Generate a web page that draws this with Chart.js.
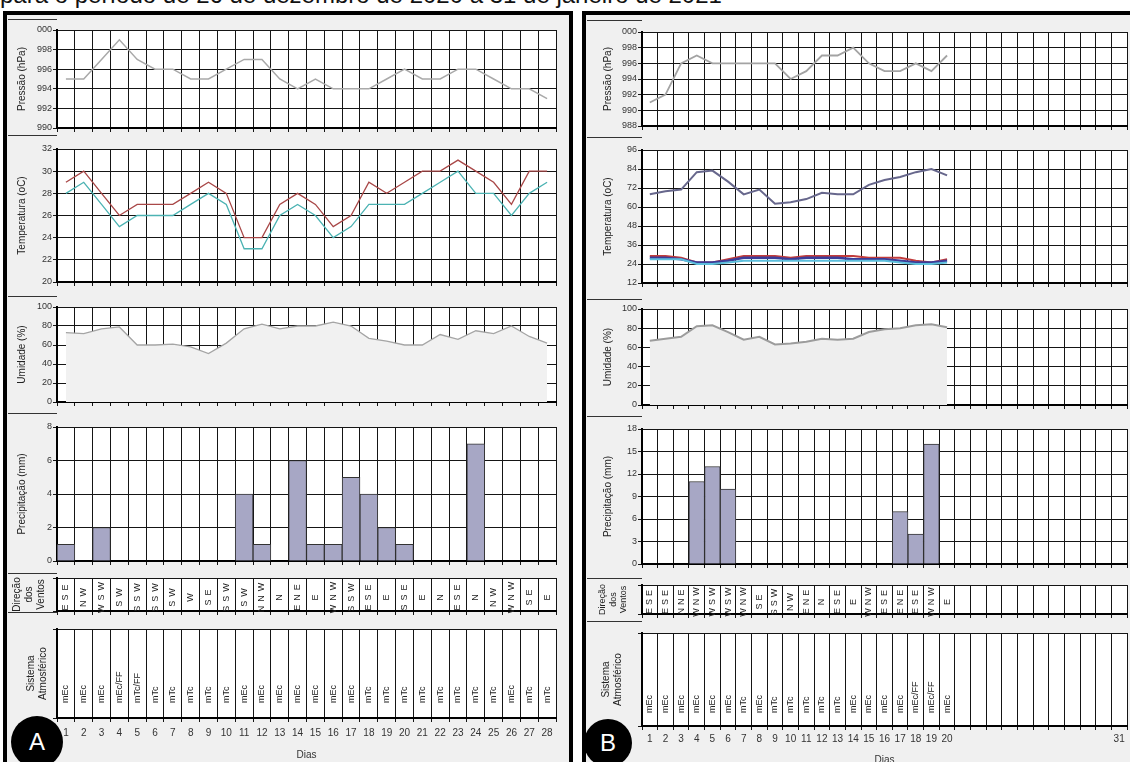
<!DOCTYPE html>
<html lang="pt-BR">
<head>
<meta charset="utf-8">
<title>Painéis diários</title>
<script src="https://cdn.jsdelivr.net/npm/chart.js@4.4.1/dist/chart.umd.min.js"></script>
<style>
  body { margin: 0; width: 1130px; height: 762px; overflow: hidden; background: #fff; position: relative;
         font-family: Arial, "Liberation Sans", sans-serif; }
  #titulo { position: absolute; left: 0; top: -19px; font-size: 24px; white-space: nowrap; color: #111; }
  .painel { position: absolute; top: 11px; height: 780px; border: 4px solid #000; background: #f0f0f0; }
  #painelA { left: 3px; width: 562px; }
  #painelB { left: 582px; width: 560px; }
  canvas { position: absolute; }
  .sep { position: absolute; height: 1px; background: #333; }
  .circulo { position: absolute; border-radius: 50%; background: #000; color: #fff; font-size: 24px;
             display: flex; align-items: center; justify-content: center; }
</style>
</head>
<body>
<div id="titulo">para o período de 26 de dezembro de 2020 a 31 de janeiro de 2021</div>
<div class="painel" id="painelA"></div>
<div class="painel" id="painelB"></div>

<script>
// ---------- Painel A ----------
const diasA = ['1','2','3','4','5','6','7','8','9','10','11','12','13','14','15','16','17','18','19','20',
               '21','22','23','24','25','26','27','28'];
const pressaoA = [995,995,997,999,997,996,996,995,995,996,997,997,995,994,995,994,994,994,995,996,995,995,996,996,995,994,994,993];
const tMaxA = [29,30,28,26,27,27,27,28,29,28,24,24,27,28,27,25,26,29,28,29,30,30,31,30,29,27,30,30];
const tMinA = [28,29,27,25,26,26,26,27,28,27,23,23,26,27,26,24,25,27,27,27,28,29,30,28,28,26,28,29];
const umidadeA = [73,72,77,79,60,60,61,58,51,62,77,82,77,80,80,84,80,67,64,60,60,71,66,75,72,80,69,62];
const chuvaA = [1,0,2,0,0,0,0,0,0,0,4,1,0,6,1,1,5,4,2,1,0,0,0,7,0,0,0,0];
const ventoA = ['ESE','NW','WSW','SW','SSW','SSW','SW','W','SE','SSW','SW','NNW','N','ENE','E','WNW','SSW','ESE',
                'E','SSE','E','N','ESE','N','NW','WNW','SE','E'];
const sistemaA = ['mEc','mEc','mEc','mEc/FF','mTc/FF','mTc','mTc','mTc','mTc','mTc','mEc','mEc','mEc','mEc','mEc',
                  'mEc','mEc','mTc','mTc','mTc','mTc','mTc','mTc','mTc','mTc','mEc','mTc','mTc'];

// ---------- Painel B ----------
const diasB = ['1','2','3','4','5','6','7','8','9','10','11','12','13','14','15','16','17','18','19','20',
               '21','22','23','24','25','26','27','28','29','30','31'];
const diasVisiveisB = ['1','2','3','4','5','6','7','8','9','10','11','12','13','14','15','16','17','18','19','20','31'];
const pressaoB = [991,992,996,997,996,996,996,996,996,994,995,997,997,998,996,995,995,996,995,997];
const umidTempB = [68,70,71,82,83,76,68,71,62,63,65,69,68,68,74,77,79,82,84,80];
const tMaxB = [29,29,28,25,25,27,29,29,29,28,29,29,29,29,28,28,28,26,25,27];
const tMedB = [28,28,27,25,25,26,28,28,28,27,28,28,28,27,27,27,26,25,25,26];
const tMinB = [27,27,27,24,24,25,26,26,26,26,26,26,26,26,26,26,25,24,24,25];
const umidadeB = [67,69,71,82,83,76,68,71,63,64,66,69,68,69,76,79,80,83,84,81];
const chuvaB = [0,0,0,11,13,10,0,0,0,0,0,0,0,0,0,0,7,4,16,0];
const ventoB = ['ESE','ESE','NNE','WNW','WSW','WSW','WNW','SE','SSW','NW','ENE','N','ESE','E','WNW','ESE','ENE',
                'ESE','WNW','E'];
const sistemaB = ['mEc','mEc','mEc','mEc','mEc','mEc','mTc','mEc','mTc','mTc','mTc','mTc','mTc','mEc','mEc',
                  'mEc','mEc','mEc/FF','mEc/FF','mEc'];

Chart.defaults.font.family = 'Arial, "Liberation Sans", sans-serif';

// white plot area on the grey panel
const fundoBranco = {
  id: 'fundoBranco',
  beforeDraw(chart) {
    const { ctx, chartArea: a } = chart;
    ctx.save();
    ctx.fillStyle = '#fff';
    ctx.fillRect(a.left, a.top, a.right - a.left, a.bottom - a.top);
    ctx.restore();
  }
};
Chart.register(fundoBranco);

// rotated text inside each day column (wind / atmospheric system rows)
function celulas(textos, modo, fonte, espaco, recuo) {
  return {
    id: 'celulas',
    afterDraw(chart) {
      const { ctx, chartArea: a, scales: { x } } = chart;
      ctx.save();
      ctx.font = fonte;
      ctx.fillStyle = '#222';
      ctx.letterSpacing = espaco;
      textos.forEach((t, i) => {
        const px = x.getPixelForValue(i);
        ctx.save();
        if (modo === 'centro') {
          ctx.translate(px, (a.top + a.bottom) / 2 + 1);
          ctx.rotate(-Math.PI / 2);
          ctx.textAlign = 'center';
        } else {
          ctx.translate(px, a.bottom - recuo);
          ctx.rotate(-Math.PI / 2);
          ctx.textAlign = 'left';
        }
        ctx.textBaseline = 'middle';
        ctx.fillText(t, 0, 0);
        ctx.restore();
      });
      ctx.restore();
    }
  };
}

function novoCanvas(left, top, w, h) {
  const c = document.createElement('canvas');
  c.width = w; c.height = h;
  c.style.left = left + 'px';
  c.style.top = top + 'px';
  c.style.width = w + 'px';
  c.style.height = h + 'px';
  document.body.appendChild(c);
  return c;
}

// one sub-chart: p = panel geometry, linha = [plotTop, plotBottom]
function grafico(p, linha, o) {
  const padTop = 8;
  const baixo = o.baixo || 8;
  const w = p.right - p.left + 3;
  const h = linha[1] - linha[0] + padTop + baixo;
  const canvas = novoCanvas(p.left, linha[0] - padTop, w, h);

  const ticksX = { display: false };
  if (o.dias) {
    Object.assign(ticksX, {
      display: true, autoSkip: false, maxRotation: 0, padding: o.dias.pad,
      font: { size: 10 }, color: '#333',
      callback: function (v, i) { const l = this.getLabelForValue(v); return p.visiveis.includes(l) ? l : ''; }
    });
  }
  const ticksY = { display: o.y.step != null, font: { size: 9 }, color: '#333', padding: 1 };
  if (o.y.step != null) ticksY.stepSize = o.y.step; else ticksY.stepSize = 1;
  if (o.y.cb) ticksY.callback = o.y.cb;

  return new Chart(canvas, {
    type: o.tipo || 'line',
    data: { labels: p.dias, datasets: o.datasets || [] },
    options: {
      responsive: false,
      devicePixelRatio: 1,
      animation: false,
      layout: { padding: { top: padTop, right: 3, left: 0, bottom: 0 } },
      plugins: { legend: { display: false }, tooltip: { enabled: false } },
      scales: {
        x: {
          offset: true,
          grid: { offset: true, color: '#151515', lineWidth: 1, tickLength: 4, tickColor: '#151515' },
          border: { color: '#000', width: 2 },
          ticks: ticksX,
          title: o.dias ? { display: true, text: 'Dias', font: { size: 10 }, color: '#333',
                            padding: { top: 0, bottom: o.dias.tpad } } : { display: false },
          afterFit: s => { s.height = baixo; }
        },
        y: {
          min: o.y.min, max: o.y.max,
          ticks: ticksY,
          grid: { color: '#151515', lineWidth: 1, tickLength: 4, tickColor: '#151515' },
          border: { color: '#000', width: 2 },
          title: { display: true, text: o.y.titulo, font: { size: o.y.tam || 10 }, color: '#222',
                   padding: { top: o.y.tpad, bottom: 0 } },
          afterFit: s => { s.width = p.plotLeft - p.left; }
        }
      }
    },
    plugins: o.plugins || []
  });
}

function linha(data, cor, largura, extra) {
  return Object.assign({ type: 'line', data: data, borderColor: cor, borderWidth: largura,
                         pointRadius: 0, tension: 0, fill: false }, extra || {});
}
function barras(data) {
  return { type: 'bar', data: data.map(v => v === 0 ? null : v), backgroundColor: '#a7a7c5',
           borderColor: '#333', borderWidth: 1, barPercentage: 1, categoryPercentage: 1 };
}
function separadores(x0, x1, ys) {
  ys.forEach(y => {
    const d = document.createElement('div');
    d.className = 'sep';
    d.style.left = x0 + 'px'; d.style.top = y + 'px'; d.style.width = (x1 - x0) + 'px';
    document.body.appendChild(d);
  });
}
function circulo(letra, cx, cy, r) {
  const d = document.createElement('div');
  d.className = 'circulo';
  d.textContent = letra;
  d.style.left = (cx - r) + 'px'; d.style.top = (cy - r) + 'px';
  d.style.width = 2 * r + 'px'; d.style.height = 2 * r + 'px';
  document.body.appendChild(d);
}
const sem000 = v => String(v).slice(-3);

// ---------- Painel A ----------
const pA = { left: 8, plotLeft: 57, right: 556, dias: diasA, visiveis: diasA };
separadores(8, 57, [19, 135, 296, 413, 573, 612]);

grafico(pA, [30, 128], {
  y: { min: 990, max: 1000, step: 2, titulo: 'Pressão (hPa)', tpad: 8, cb: sem000 },
  datasets: [linha(pressaoA, '#a9a9a9', 1.5)]
});
grafico(pA, [149, 282], {
  y: { min: 20, max: 32, step: 2, titulo: 'Temperatura (oC)', tpad: 8 },
  datasets: [linha(tMinA, '#4cb3b3', 1.3), linha(tMaxA, '#a94848', 1.3)]
});
grafico(pA, [307, 402], {
  y: { min: 0, max: 100, step: 20, titulo: 'Umidade (%)', tpad: 8 },
  datasets: [linha(umidadeA, '#a5a5a5', 1.3, { fill: 'origin', backgroundColor: '#f1f1f1' })]
});
grafico(pA, [427, 561], {
  tipo: 'bar',
  y: { min: 0, max: 8, step: 2, titulo: 'Precipitação (mm)', tpad: 8 },
  datasets: [barras(chuvaA)]
});
grafico(pA, [578, 611], {
  y: { min: 0, max: 1, titulo: ['Direção', 'dos', 'Ventos'], tam: 10, tpad: 3 },
  plugins: [celulas(ventoA, 'centro', '9px Arial, "Liberation Sans", sans-serif', '4px', 0)]
});
grafico(pA, [629, 718], {
  baixo: 44,
  dias: { pad: 5, tpad: 1 },
  y: { min: 0, max: 1, titulo: ['Sistema', 'Atmosférico'], tam: 10, tpad: 17 },
  plugins: [celulas(sistemaA, 'base', '9px Arial, "Liberation Sans", sans-serif', '0px', 15)]
});
circulo('A', 37, 742, 26);

// ---------- Painel B ----------
const pB = { left: 587, plotLeft: 642, right: 1127, dias: diasB, visiveis: diasVisiveisB };
separadores(587, 642, [20, 137, 299, 416, 578, 621]);

grafico(pB, [32, 126], {
  y: { min: 988, max: 1000, step: 2, titulo: 'Pressão (hPa)', tpad: 15, cb: sem000 },
  datasets: [linha(pressaoB, '#a3a3a3', 1.8)]
});
grafico(pB, [150, 283], {
  y: { min: 12, max: 96, step: 12, titulo: 'Temperatura (oC)', tpad: 15 },
  datasets: [
    linha(umidTempB, '#67678c', 2),
    linha(tMinB, '#5cbfdc', 2),
    linha(tMedB, '#3c3c98', 2.5),
    linha(tMaxB, '#c23c3c', 2)
  ]
});
grafico(pB, [309, 405], {
  y: { min: 0, max: 100, step: 20, titulo: 'Umidade (%)', tpad: 15 },
  datasets: [linha(umidadeB, '#9c9c9c', 2, { fill: 'origin', backgroundColor: '#eeeeee' })]
});
grafico(pB, [429, 564], {
  tipo: 'bar',
  y: { min: 0, max: 18, step: 3, titulo: 'Precipitação (mm)', tpad: 15 },
  datasets: [barras(chuvaB)]
});
grafico(pB, [585, 614], {
  y: { min: 0, max: 1, titulo: ['Direção', 'dos', 'Ventos'], tam: 9, tpad: 10 },
  plugins: [celulas(ventoB, 'centro', '9px Arial, "Liberation Sans", sans-serif', '3px', 0)]
});
grafico(pB, [633, 726], {
  baixo: 46,
  dias: { pad: 3, tpad: 6 },
  y: { min: 0, max: 1, titulo: ['Sistema', 'Atmosférico'], tam: 10, tpad: 13 },
  plugins: [celulas(sistemaB, 'base', '9px Arial, "Liberation Sans", sans-serif', '0px', 13)]
});
circulo('B', 608, 743, 24);
</script>
</body>
</html>
